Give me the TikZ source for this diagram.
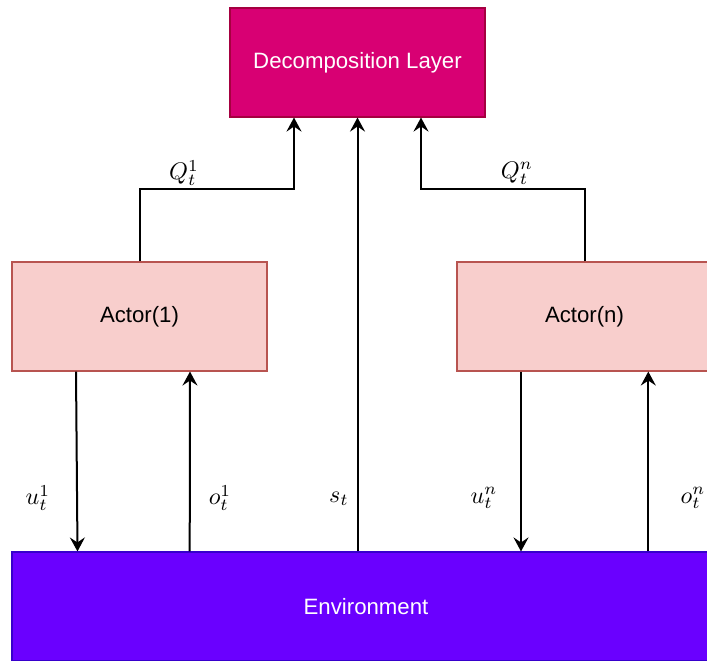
\documentclass[tikz,border=0pt]{standalone}
\usepackage{fontspec}
\setmainfont{Liberation Sans}
\usetikzlibrary{arrows.meta}

\definecolor{decfill}{HTML}{D80073}
\definecolor{decline}{HTML}{A50040}
\definecolor{actfill}{HTML}{F8CECC}
\definecolor{actline}{HTML}{B85450}
\definecolor{envfill}{HTML}{6A00FF}
\definecolor{envline}{HTML}{3700CC}

% math labels: normal-size math enlarged
\newcommand{\siglabel}[1]{\scalebox{2.4}{$#1$}}

\tikzset{
  block/.style={rectangle, minimum width=255pt, minimum height=109pt,
    inner sep=0pt, line width=1.1pt,
    font=\fontsize{22.2}{27}\selectfont},
  declayer/.style={block, fill=decfill, draw=decline, text=white},
  actorbox/.style={block, fill=actfill, draw=actline, text=black},
  envbox/.style={block, minimum width=708pt, fill=envfill, draw=envline, text=white},
  flow/.style={line width=2pt, draw=black,
    -{Stealth[length=14pt, width=15pt, inset=5pt]}},
  sig/.style={inner sep=0pt}
}

\begin{document}
\begin{tikzpicture}[x=1pt, y=-1pt]
  \useasboundingbox (0,0) rectangle (707,661);

  % blocks
  \node[declayer] (dec) at (357.5,62.5) {Decomposition Layer};
  \node[actorbox] (a1) at (139.5,316.5) {Actor(1)};
  \node[actorbox] (an) at (584.5,316.5) {Actor(n)};
  \node[envbox]   (env) at (366,606.5) {Environment};

  % bends of the Q-value links
  \coordinate (q1) at (294,189);
  \coordinate (qn) at (421,189);

  % Q-values up to the decomposition layer
  \draw[flow] (a1.north) |- (q1) -- (q1 |- dec.south);
  \draw[flow] (an.north) |- (qn) -- (qn |- dec.south);

  % global state
  \draw[flow] (dec.south |- env.north) -- (dec.south);

  % actions and observations, agent 1
  \draw[flow] ([xshift=-63.5pt]a1.south) -- ([xshift=-62pt]a1.south |- env.north);
  \draw[flow] ([xshift=50.2pt]a1.south |- env.north) -- ([xshift=50.5pt]a1.south);

  % actions and observations, agent n
  \draw[flow] ([xshift=-63.5pt]an.south) -- ([xshift=-63.5pt]an.south |- env.north);
  \draw[flow] ([xshift=63.8pt]an.south |- env.north) -- ([xshift=63.8pt]an.south);

  % signal labels
  \node[sig] (lq1) at (184,173) {\siglabel{Q_t^1}};
  \node[sig] (lqn) at (517,173) {\siglabel{Q_t^n}};
  \node[sig] (lu1) at (38,498) {\siglabel{u_t^1}};
  \node[sig] (lo1) at (220,498) {\siglabel{o_t^1}};
  \node[sig] (ls)  at (339,499) {\siglabel{s_t}};
  \node[sig] (lun) at (484,498) {\siglabel{u_t^n}};
  \node[sig] (lon) at (693,498) {\siglabel{o_t^n}};
\end{tikzpicture}
\end{document}
